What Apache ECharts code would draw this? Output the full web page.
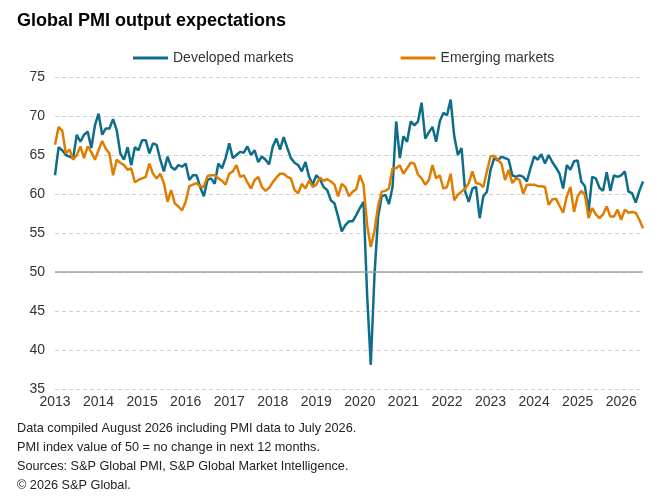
<!DOCTYPE html>
<html>
<head>
<meta charset="utf-8">
<script src="https://cdn.jsdelivr.net/npm/echarts@6.0.0/dist/echarts.min.js"></script>
<style>
  html, body { margin: 0; padding: 0; background: #fff; }
  #main { width: 665px; height: 499px; }
</style>
</head>
<body>
<div id="main"></div>
<script>
// monthly readings, Jan 2013 .. Jul 2026
var years = ['2013','2014','2015','2016','2017','2018','2019','2020','2021','2022','2023','2024','2025','2026'];
var lastMonth = 7; // July of the final year

var developed = [
  62.4, 66.0, 65.6, 65.0, 64.8, 64.6, 67.6, 66.7, 67.6, 68.0, 65.9, 68.8,
  70.3, 67.6, 68.4, 68.4, 69.6, 68.2, 65.2, 64.4, 66.0, 63.7, 66.0, 65.6,
  66.9, 66.9, 65.2, 66.5, 66.3, 64.4, 62.9, 64.8, 63.5, 63.1, 63.7, 63.5,
  63.9, 61.8, 62.4, 62.4, 60.9, 59.7, 61.8, 62.0, 61.3, 63.9, 63.3, 64.6,
  66.5, 64.6, 65.0, 65.4, 65.3, 66.1, 65.0, 65.6, 64.1, 64.8, 64.4, 63.8,
  66.1, 67.1, 65.7, 67.3, 65.9, 64.6, 64.0, 63.7, 62.9, 64.1, 62.2, 61.2,
  62.4, 61.9, 60.9, 60.5, 59.2, 58.8, 57.1, 55.2, 56.0, 56.5, 56.5, 57.3,
  58.2, 59.0, 47.0, 38.1, 49.4, 57.0, 59.7, 59.9, 58.7, 60.9, 69.3, 64.6,
  67.4, 66.7, 69.3, 68.8, 69.3, 71.7, 67.1, 67.9, 68.6, 66.7, 69.3, 70.4,
  70.1, 72.1, 67.4, 65.0, 65.9, 60.3, 59.0, 60.7, 60.9, 56.9, 59.7, 60.3,
  63.1, 64.6, 64.3, 64.8, 64.6, 64.4, 62.4, 62.2, 62.4, 62.2, 61.6, 63.3,
  64.8, 64.4, 65.1, 63.9, 65.0, 64.1, 63.4, 62.6, 60.7, 63.7, 63.1, 64.2,
  64.3, 61.6, 61.0, 57.7, 62.2, 62.0, 60.8, 60.4, 62.8, 60.4, 62.4, 62.2,
  62.4, 62.9, 60.3, 60.1, 58.9, 60.4, 61.6
];

var emerging = [
  66.3, 68.6, 68.1, 65.2, 65.7, 64.4, 65.0, 66.1, 64.6, 66.1, 65.4, 64.4,
  65.6, 66.8, 65.8, 65.2, 62.4, 64.4, 64.0, 63.7, 63.1, 63.3, 61.5, 61.8,
  62.0, 62.2, 63.9, 62.6, 62.0, 62.6, 61.4, 59.0, 60.5, 58.8, 58.4, 57.9,
  59.0, 61.0, 61.2, 61.4, 61.0, 60.9, 62.3, 62.4, 62.4, 62.0, 61.7, 61.2,
  62.6, 62.9, 63.7, 62.2, 62.4, 61.5, 60.7, 61.8, 62.2, 60.9, 60.4, 60.8,
  61.5, 62.1, 62.6, 62.6, 62.2, 62.0, 60.5, 60.1, 61.3, 60.7, 61.7, 60.9,
  61.2, 62.1, 61.7, 61.9, 61.6, 61.2, 59.7, 61.3, 60.9, 59.7, 60.3, 60.6,
  62.4, 61.2, 56.0, 53.2, 55.2, 58.4, 60.3, 60.4, 60.7, 63.3, 63.3, 63.7,
  62.6, 63.3, 64.0, 63.9, 62.5, 62.0, 61.2, 61.8, 63.7, 62.0, 62.4, 60.7,
  60.9, 62.6, 59.2, 59.9, 60.3, 60.7, 61.4, 62.9, 61.4, 61.3, 60.9, 62.9,
  64.8, 64.9, 64.4, 63.9, 61.8, 63.1, 61.4, 62.0, 61.8, 60.0, 61.2, 61.2,
  61.2, 61.0, 61.0, 60.9, 58.6, 59.3, 59.4, 58.5, 57.6, 59.7, 60.9, 57.7,
  59.7, 60.4, 59.9, 56.9, 58.2, 57.4, 56.9, 57.4, 58.4, 57.1, 57.1, 58.0,
  56.7, 58.0, 57.6, 57.7, 57.6, 56.7, 55.6
];

var notes = [
  'Data compiled August 2026 including PMI data to July 2026.',
  'PMI index value of 50 = no change in next 12 months.',
  'Sources: S&P Global PMI, S&P Global Market Intelligence.',
  '\u00a9 2026 S&P Global.'
];

var months = [];
years.forEach(function (y, i) {
  var n = (i === years.length - 1) ? lastMonth : 12;
  for (var m = 1; m <= n; m++) months.push(y + '-' + (m < 10 ? '0' + m : m));
});

var font = '"Liberation Sans", Arial, sans-serif';
var chart = echarts.init(document.getElementById('main'));

chart.setOption({
  animation: false,
  textStyle: { fontFamily: font },
  title: {
    text: 'Global PMI output expectations',
    left: 12,
    top: 7,
    textStyle: { fontSize: 18, fontWeight: 'bold', color: '#000', fontFamily: font }
  },
  legend: {
    top: 46,
    left: 128,
    icon: 'rect',
    itemWidth: 35,
    itemHeight: 3,
    itemGap: 107,
    textStyle: { fontSize: 14, color: '#333', fontFamily: font },
    data: ['Developed markets', 'Emerging markets']
  },
  grid: { left: 55, right: 22, top: 77, bottom: 110, containLabel: false },
  xAxis: {
    type: 'category',
    data: months,
    boundaryGap: false,
    axisLine: { show: false },
    axisTick: { show: false },
    axisLabel: {
      interval: function (i) { return i % 12 === 0; },
      formatter: function (v) { return v.slice(0, 4); },
      fontSize: 14,
      color: '#333',
      margin: 6
    },
    splitLine: { show: false }
  },
  yAxis: {
    type: 'value',
    min: 35,
    max: 75,
    interval: 5,
    axisLine: { show: false },
    axisTick: { show: false },
    axisLabel: { fontSize: 14, color: '#333', margin: 10 },
    splitLine: { lineStyle: { color: '#d0d0d0', type: [4, 3], width: 1 } }
  },
  series: [
    {
      name: 'Developed markets',
      type: 'line',
      data: developed,
      showSymbol: false,
      lineStyle: { color: '#0e6d8a', width: 2.5 },
      itemStyle: { color: '#0e6d8a' },
      z: 3,
      markLine: {
        silent: true,
        symbol: 'none',
        label: { show: false },
        lineStyle: { color: '#a0a0a0', type: 'solid', width: 1.5 },
        data: [{ yAxis: 50 }]
      }
    },
    {
      name: 'Emerging markets',
      type: 'line',
      data: emerging,
      showSymbol: false,
      lineStyle: { color: '#e07c00', width: 2.5 },
      itemStyle: { color: '#e07c00' },
      z: 4
    }
  ],
  graphic: notes.map(function (t, i) {
    return {
      type: 'text',
      left: 17,
      top: 422 + i * 19,
      style: { text: t, fontSize: 12.7, fill: '#222', fontFamily: font }
    };
  })
});
</script>
</body>
</html>
